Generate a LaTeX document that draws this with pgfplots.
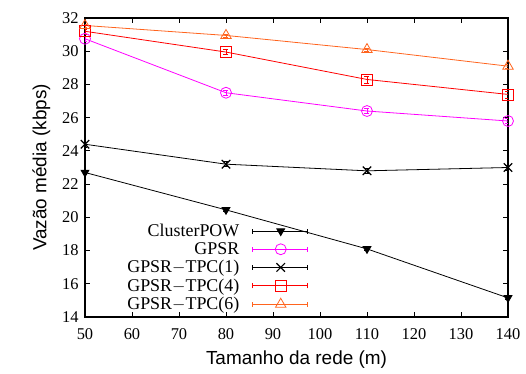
\documentclass[border=0pt]{standalone}
\usepackage{pgfplots}
\pgfplotsset{compat=1.18}
\usepackage{fontspec}
\setmainfont{Liberation Serif}
\newfontfamily\labelfont{Liberation Sans}

\definecolor{cmag}{RGB}{255,0,255}
\definecolor{cred}{RGB}{255,0,0}
\definecolor{corange}{RGB}{255,100,30}

% legend sample: line with error-bar caps and the mark in the middle
\pgfplotsset{
  errlegend/.style={
    legend image code/.code={
      \path (0bp,0bp);
      \draw[##1,mark=none] (11bp,0bp) -- (66bp,0bp);
      \draw[##1,mark=none] (11bp,-2.5bp) -- (11bp,2.5bp);
      \draw[##1,mark=none] (66bp,-2.5bp) -- (66bp,2.5bp);
      \draw[##1,only marks] plot coordinates {(39bp,0bp)};
    }
  }
}

\begin{document}
\begin{tikzpicture}[x=1bp,y=1bp]
\useasboundingbox (-85bp,-57bp) rectangle (441bp,317bp);
\begin{axis}[
  at={(0,0)}, anchor=south west,
  scale only axis,
  width=423bp, height=299bp,
  xmin=50, xmax=140, ymin=14, ymax=32,
  xtick={50,60,...,140}, ytick={14,16,...,32},
  tick align=inside,
  major tick length=5bp,
  axis line style={line width=1.1pt},
  every tick/.style={black, line width=0.8pt},
  tick label style={font=\fontsize{16.5}{18}\selectfont},
  /pgf/number format/assume math mode=true,
  xticklabel style={yshift=-8bp},
  yticklabel style={xshift=-3bp},
  xlabel={\labelfont Tamanho da rede (m)},
  ylabel={\labelfont Vazão média (kbps)},
  label style={font=\fontsize{19}{21}\selectfont},
  xlabel style={yshift=-4bp},
  ylabel style={yshift=5bp},
  legend cell align=right,
  legend plot pos=right,
  legend style={
    at={(0.528,0.012)}, anchor=south east,
    draw=none, fill=none,
    font=\fontsize{18}{19}\selectfont,
    row sep=0.5bp, inner sep=0bp,
  },
  errlegend,
  error bars/y dir=both, error bars/y explicit,
  error bars/error mark options={rotate=90, mark size=2.5bp},
  every axis plot/.append style={line width=0.8pt},
]
% ClusterPOW
\addplot[black, mark=triangle*, mark size=4.5bp, mark options={rotate=180, solid}]
  coordinates {(50,22.7) +- (0,0.1) (80,20.45) +- (0,0.1) (110,18.1) +- (0,0.1) (140,15.15) +- (0,0.1)};
\addlegendentry{ClusterPOW}
% GPSR
\addplot[cmag, mark=o, mark size=5.5bp]
  coordinates {(50,30.75) +- (0,0.15) (80,27.5) +- (0,0.15) (110,26.4) +- (0,0.15) (140,25.8) +- (0,0.15)};
\addlegendentry{GPSR}
% GPSR-TPC(1)
\addplot[black, mark=x, mark size=6bp, mark options={line width=1.2pt}]
  coordinates {(50,24.4) +- (0,0.15) (80,23.2) +- (0,0.15) (110,22.8) +- (0,0.15) (140,23.0) +- (0,0.15)};
\addlegendentry{GPSR$-$TPC(1)}
% GPSR-TPC(4)
\addplot[cred, mark=square, mark size=5.5bp]
  coordinates {(50,31.2) +- (0,0.15) (80,29.95) +- (0,0.15) (110,28.3) +- (0,0.2) (140,27.4) +- (0,0.2)};
\addlegendentry{GPSR$-$TPC(4)}
% GPSR-TPC(6)
\addplot[corange, mark=triangle, mark size=6bp]
  coordinates {(50,31.55) +- (0,0.1) (80,30.95) +- (0,0.1) (110,30.1) +- (0,0.1) (140,29.1) +- (0,0.1)};
\addlegendentry{GPSR$-$TPC(6)}
\end{axis}
\end{tikzpicture}
\end{document}
